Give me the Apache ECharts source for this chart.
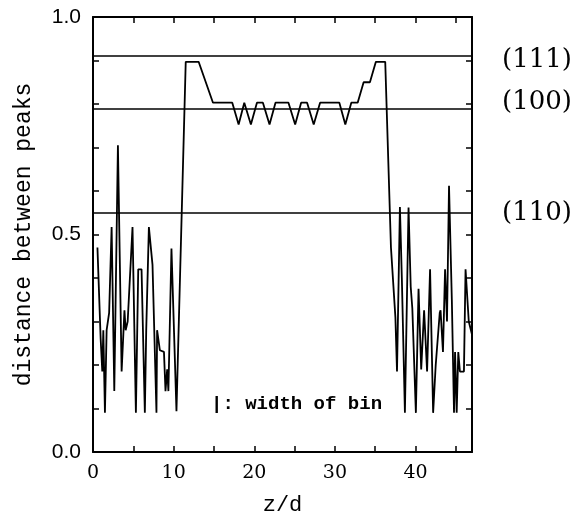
<!DOCTYPE html>
<html>
<head>
<meta charset="utf-8">
<script src="https://cdn.jsdelivr.net/npm/echarts@6/dist/echarts.min.js"></script>
<style>html,body{margin:0;padding:0;background:#fff;}#c{width:579px;height:521px;}</style>
</head>
<body>
<div id="c"></div>
<script>
// z/d positions and distance values
const zValues = [0.55,0.95,1.15,1.28,1.48,1.69,2.0,2.31,2.64,3.09,3.55,3.9,4.05,4.3,4.9,5.32,5.61,6.02,6.43,6.6,6.93,7.38,7.87,7.95,8.29,8.8,8.99,9.2,9.35,9.73,10.35,
  11.5,13.1,14.88,17.27,18.06,18.76,19.58,20.33,21.07,21.89,22.63,24.24,25.07,25.81,26.55,27.37,28.16,30.55,31.29,32.03,32.82,33.56,34.34,35.08,36.24,
  36.95,37.5,37.7,38.06,38.3,38.68,39.13,39.4,39.6,40.04,40.37,40.7,41.06,41.43,41.8,42.18,42.5,43.0,43.1,43.4,43.66,43.9,44.15,44.5,44.77,44.9,45.1,45.3,45.5,46.0,46.2,46.6,47.0];
const distValues = [0.47,0.26,0.185,0.28,0.09,0.28,0.32,0.517,0.14,0.705,0.185,0.326,0.28,0.30,0.517,0.09,0.42,0.42,0.09,0.28,0.517,0.43,0.09,0.28,0.234,0.23,0.14,0.19,0.14,0.468,0.094,
  0.897,0.897,0.803,0.803,0.753,0.803,0.753,0.803,0.803,0.753,0.803,0.803,0.753,0.803,0.803,0.753,0.803,0.803,0.753,0.803,0.803,0.85,0.85,0.897,0.897,
  0.47,0.31,0.185,0.563,0.40,0.09,0.562,0.38,0.33,0.09,0.375,0.19,0.326,0.185,0.42,0.09,0.20,0.32,0.326,0.23,0.42,0.30,0.612,0.35,0.09,0.23,0.09,0.23,0.185,0.185,0.42,0.30,0.27];
// reference lines for crystal planes
const planeNames = ['(111)','(100)','(110)'];
const planeValues = [0.908,0.787,0.554];
const xTickLabels = [0,10,20,30,40];
const yTickLabels = [0.0,0.5,1.0];

const labelOffsets = [[0,4],[0,-6],[0,0]];
const seriesData = zValues.map((z,i)=>[z, distValues[i]]);
const chart = echarts.init(document.getElementById('c'));
const mkLine = ()=>({show:true, onZero:false, lineStyle:{color:'#000', width:2}});
const mkTick = ()=>({show:true, inside:true, length:6, lineStyle:{color:'#000', width:1.5}});
chart.setOption({
  animation:false,
  backgroundColor:'#fff',
  grid:{left:93, right:107, top:17, bottom:67},
  xAxis:[
    {type:'value', min:0, max:47, interval:5, position:'bottom',
     axisLine:mkLine(), axisTick:mkTick(), splitLine:{show:false},
     axisLabel:{margin:12, color:'#000', fontFamily:'DejaVu Serif', fontSize:19,
       formatter:v=> xTickLabels.includes(v) ? String(v) : ''},
     name:'z/d', nameLocation:'middle', nameGap:42,
     nameTextStyle:{fontFamily:'Liberation Mono', fontSize:22, color:'#000'}},
    {type:'value', min:0, max:47, interval:5, position:'top',
     axisLine:mkLine(), axisTick:mkTick(), splitLine:{show:false}, axisLabel:{show:false}}
  ],
  yAxis:[
    {type:'value', min:0, max:1, interval:0.1, position:'left',
     axisLine:mkLine(), axisTick:mkTick(), splitLine:{show:false},
     axisLabel:{margin:12, color:'#000', fontFamily:'Liberation Sans', fontSize:21,
       formatter:v=>{const r=Math.round(v*10)/10; return yTickLabels.some(t=>Math.abs(t-r)<1e-9) && Math.abs(v-r)<1e-6 ? r.toFixed(1) : '';}},
     name:'distance between peaks', nameLocation:'middle', nameGap:58,
     nameTextStyle:{fontFamily:'Liberation Mono', fontSize:23, color:'#000'}},
    {type:'value', min:0, max:1, interval:0.1, position:'right',
     axisLine:mkLine(), axisTick:mkTick(), splitLine:{show:false}, axisLabel:{show:false}}
  ],
  graphic:[
    {type:'text', left:211, top:395,
     style:{text:'|: width of bin', font:'bold 19px "Liberation Mono"', fill:'#000'}}
  ],
  series:[{
    type:'line', data:seriesData, symbol:'none', xAxisIndex:0, yAxisIndex:0,
    lineStyle:{color:'#000', width:1.8},
    markLine:{
      silent:true, symbol:['none','none'],
      lineStyle:{color:'#000', width:1.5, type:'solid'},
      label:{show:true, position:'end', distance:30, formatter:'{b}', color:'#000',
        fontFamily:'DejaVu Serif', fontSize:26},
      data: planeValues.map((v,i)=>({yAxis:v, name:planeNames[i], label:{offset:labelOffsets[i]}}))
    }
  }]
});
</script>
</body>
</html>
